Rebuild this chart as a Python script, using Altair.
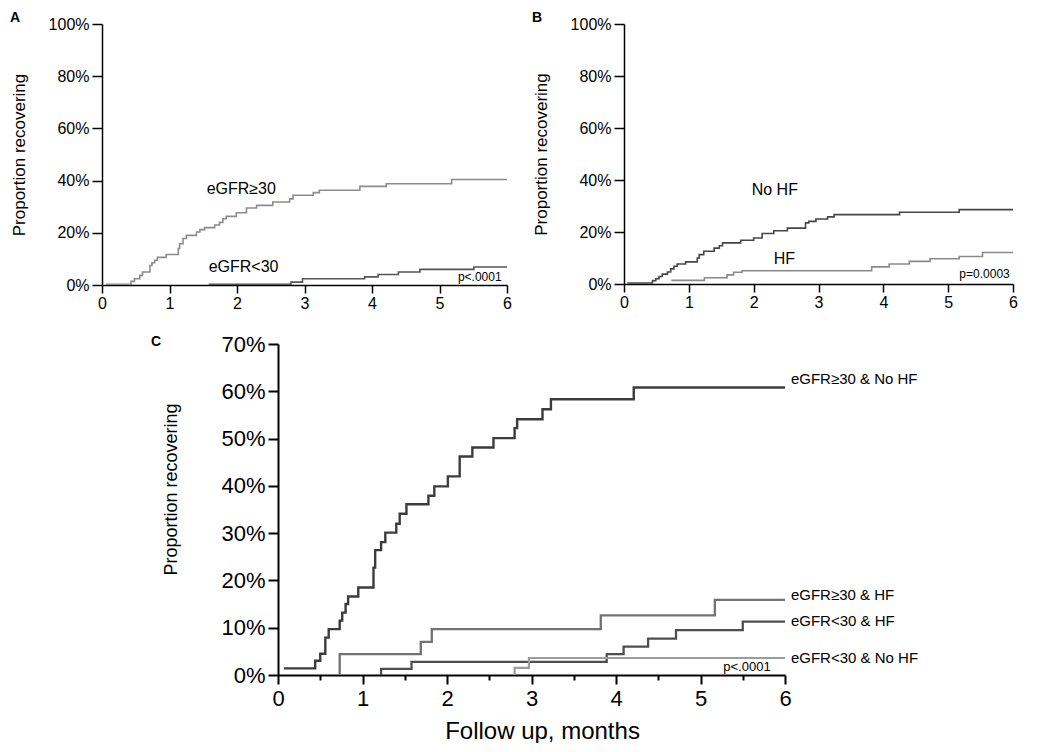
import altair as alt
import pandas as pd

# ---------------- data ----------------
# Panel A
a_hi_t = [0.06, 0.43, 0.48, 0.56, 0.60, 0.71, 0.74, 0.78, 0.82, 0.95, 1.13, 1.15, 1.20, 1.25, 1.40, 1.45, 1.52,
          1.67, 1.74, 1.79, 1.84, 1.99, 2.14, 2.29, 2.53, 2.78, 2.83, 3.13, 3.22, 3.82, 4.21, 5.18, 6.0]
a_hi_v = [0.3, 1.4, 2.4, 3.7, 5.0, 7.5, 8.5, 9.5, 10.6, 11.7, 14.0, 15.8, 17.8, 19.0, 20.3, 21.2, 22.0,
          23.0, 24.0, 25.4, 26.3, 27.7, 29.5, 30.5, 31.8, 33.0, 34.4, 35.4, 36.3, 37.8, 38.8, 40.4, 40.4]
a_lo_t = [1.58, 2.80, 2.97, 3.89, 4.09, 4.39, 4.71, 5.51, 6.0]
a_lo_v = [0.3, 1.1, 2.4, 3.1, 4.0, 5.0, 6.0, 6.9, 6.9]

# Panel B
b_nohf_t = [0.05, 0.44, 0.49, 0.54, 0.59, 0.67, 0.72, 0.77, 0.82, 0.95, 1.13, 1.16, 1.23, 1.39, 1.47, 1.52,
            1.80, 2.00, 2.13, 2.31, 2.52, 2.80, 2.85, 2.96, 3.14, 3.24, 4.25, 5.17, 6.0]
b_nohf_v = [0.4, 1.3, 2.0, 2.9, 3.8, 4.6, 5.8, 6.8, 7.7, 8.5, 10.0, 11.3, 12.6, 13.8, 14.7, 15.8,
            16.8, 17.7, 19.4, 20.5, 21.5, 23.5, 24.1, 25.0, 25.8, 26.7, 27.6, 28.6, 28.6]
b_hf_t = [0.73, 1.24, 1.59, 1.69, 1.82, 3.82, 4.09, 4.40, 4.72, 5.17, 5.53, 6.0]
b_hf_v = [1.4, 2.4, 3.5, 4.5, 5.1, 6.6, 7.7, 8.7, 9.7, 10.6, 12.1, 12.1]

# Panel C
c1_t = [0.07, 0.44, 0.50, 0.56, 0.60, 0.73, 0.76, 0.80, 0.83, 0.95, 1.13, 1.15, 1.22, 1.27, 1.40, 1.44, 1.52,
        1.78, 1.85, 2.01, 2.15, 2.30, 2.55, 2.80, 2.83, 3.13, 3.23, 4.21, 6.0]
c1_v = [1.4, 3.0, 4.5, 7.9, 9.7, 11.5, 13.2, 15.0, 16.6, 18.5, 22.7, 26.4, 28.1, 30.1, 32.0, 34.1, 36.1,
        37.9, 39.9, 42.0, 46.2, 48.1, 50.1, 52.2, 54.1, 56.2, 58.3, 60.8, 60.8]
c2_t = [0.73, 0.73, 1.69, 1.82, 3.82, 5.17, 6.0]
c2_v = [0.0, 4.4, 7.0, 9.7, 12.6, 15.9, 15.9]
c3_t = [1.22, 1.22, 1.58, 3.89, 4.09, 4.38, 4.71, 5.50, 6.0]
c3_v = [0.0, 1.3, 2.8, 4.4, 6.0, 7.7, 9.5, 11.3, 11.3]
c4_t = [2.80, 2.80, 2.97, 6.0]
c4_v = [0.0, 1.5, 3.6, 3.6]

a_names = ["eGFR≥30", "eGFR<30"]
b_names = ["No HF", "HF"]
c_names = ["eGFR≥30 & No HF", "eGFR≥30 & HF", "eGFR<30 & HF", "eGFR<30 & No HF"]

# label anchors (data units)
a_lab_x = [1.55, 1.58]
a_lab_y = [36.8, 6.9]
b_lab_x = [1.97, 2.31]
b_lab_y = [36.2, 9.6]
c_lab_y = [62.5, 17.0, 11.4, 3.6]

x_ticks = [i * 0.5 for i in range(13)]
ab_y_ticks = [i / 10 for i in range(11)]
c_y_ticks = [i / 20 for i in range(15)]


def series_df(pairs, names):
    rows = []
    for (ts, vs), n in zip(pairs, names):
        for i, (t, v) in enumerate(zip(ts, vs)):
            rows.append({"t": t, "v": v / 100.0, "s": n, "o": i})
    return pd.DataFrame(rows)


FONT = "Liberation Sans, Arial, sans-serif"


def x_axis(size, major, minor, width, label_pad, title=None, title_size=None, title_x=None):
    kw = dict(
        values=x_ticks,
        labelExpr="(datum.value % 1 === 0) ? format(datum.value, 'd') : ''",
        labelFontSize=size, labelFont=FONT, labelColor="black", labelPadding=label_pad,
        tickSize={"condition": {"test": "datum.value % 1 === 0", "value": major}, "value": minor},
        tickColor="black", tickWidth=width, domainColor="black", domainWidth=width,
        grid=False, labelFlush=False,
    )
    if title:
        kw.update(title=title, titleFont=FONT, titleFontSize=title_size, titleFontWeight="normal",
                  titleColor="black", titlePadding=10)
        if title_x is not None:
            kw.update(titleX=title_x)
    else:
        kw.update(title=None)
    return alt.Axis(**kw)


def y_axis(values, step, size, major, minor, width, title_size, title_pad, extent, title_y=None):
    kw = dict(
        values=values,
        labelExpr=f"(round(datum.value*100) % {step} === 0) ? format(datum.value, '.0%') : ''",
        labelFontSize=size, labelFont=FONT, labelColor="black", labelPadding=3,
        tickSize={"condition": {"test": f"round(datum.value*100) % {step} === 0", "value": major}, "value": minor},
        tickColor="black", tickWidth=width, domainColor="black", domainWidth=width,
        grid=False, title="Proportion recovering", titleFont=FONT, titleFontSize=title_size,
        titleFontWeight="normal", titleColor="black", titlePadding=title_pad,
        minExtent=extent, maxExtent=extent,
    )
    if title_y is not None:
        kw.update(titleY=title_y)
    return alt.Axis(**kw)


def panel(df, names, colors, widths, ymax, yvals, ystep, w, h, letter, labels_df, pval, pval_xy,
          lab_size, tick_size, xmaj, xmin, ymaj, ymin, axw, ytitle_size, ytitle_pad,
          extent, title_offset, title_dx=0, xtitle=None, xtitle_size=None, pfont=12,
          x_label_pad=2, title_x=None, title_y=None):
    xs = alt.Scale(domain=[0, 6], nice=False, zero=False)
    ys = alt.Scale(domain=[0, ymax], nice=False)
    lines = alt.Chart(df).mark_line(interpolate="step-after", strokeCap="butt").encode(
        x=alt.X("t:Q", scale=xs, axis=x_axis(tick_size, xmaj, xmin, axw, x_label_pad, xtitle, xtitle_size,
                                             title_x)),
        y=alt.Y("v:Q", scale=ys, axis=y_axis(yvals, ystep, tick_size, ymaj, ymin, axw,
                                             ytitle_size, ytitle_pad, extent, title_y)),
        color=alt.Color("s:N", scale=alt.Scale(domain=names, range=colors), legend=None),
        strokeWidth=alt.StrokeWidth("s:N", scale=alt.Scale(domain=names, range=widths), legend=None),
        detail="s:N",
        order="o:Q",
    )
    texts = alt.Chart(labels_df).mark_text(align="left", baseline="middle", font=FONT,
                                           fontSize=lab_size, color="black").encode(
        x=alt.X("x:Q", scale=xs), y=alt.Y("y:Q", scale=ys), text="label:N")
    pdf = pd.DataFrame({"x": [pval_xy[0]], "y": [pval_xy[1]], "label": [pval]})
    ptext = alt.Chart(pdf).mark_text(align="right", baseline="bottom", font=FONT, fontSize=pfont,
                                     color="black").encode(
        x=alt.X("x:Q", scale=xs), y=alt.Y("y:Q", scale=ys), text="label:N")
    return alt.layer(lines, texts, ptext).properties(
        width=w, height=h,
        title=alt.TitleParams(letter, anchor="start", frame="bounds", fontSize=14, fontWeight="bold",
                              font=FONT, color="black", offset=title_offset, dx=title_dx),
    ).resolve_scale(color="independent", strokeWidth="independent")


dfA = series_df([(a_hi_t, a_hi_v), (a_lo_t, a_lo_v)], a_names)
labA = pd.DataFrame({"x": a_lab_x, "y": [v / 100 for v in a_lab_y], "label": a_names})
A = panel(dfA, a_names, ["#8c8c8c", "#555555"], [1.6, 1.6], 1.0, ab_y_ticks, 20, 405, 261, "A", labA,
          "p<.0001", (5.92, 0.003), 16, 16, 8, 4, 10, 5, 1.5, 17, 19, 55, -9)

dfB = series_df([(b_nohf_t, b_nohf_v), (b_hf_t, b_hf_v)], b_names)
labB = pd.DataFrame({"x": b_lab_x, "y": [v / 100 for v in b_lab_y], "label": b_names})
B = panel(dfB, b_names, ["#464646", "#8a8a8a"], [1.6, 1.6], 1.0, ab_y_ticks, 20, 389, 260, "B", labB,
          "p=0.0003", (5.95, 0.012), 16, 16, 8, 4, 10, 5, 1.5, 17, 19, 55, -9)

dfC = series_df([(c1_t, c1_v), (c2_t, c2_v), (c3_t, c3_v), (c4_t, c4_v)], c_names)
labC = pd.DataFrame({"x": [6.07] * 4, "y": [v / 100 for v in c_lab_y], "label": c_names})
C = panel(dfC, c_names, ["#3c3c3c", "#727272", "#4e4e4e", "#9c9c9c"], [2.4, 2.2, 2.2, 1.6], 0.7, c_y_ticks, 10,
          507, 331, "C", labC, "p<.0001", (5.83, 0.003), 15, 22, 9, 5, 10, 6, 2, 18, 40, 58, -16, title_dx=-11,
          xtitle="Follow up, months", xtitle_size=24, pfont=13, x_label_pad=4, title_x=264, title_y=145)

spacer = alt.Chart(pd.DataFrame({"a": [0]})).mark_text(text=" ", opacity=0).encode(
    x=alt.X("a:Q", axis=None), y=alt.Y("a:Q", axis=None)).properties(width=49, height=1)

top = alt.hconcat(A, B, spacing=20).resolve_scale(color="independent", strokeWidth="independent")
bottom = alt.hconcat(spacer, C, spacing=0).resolve_scale(color="independent", strokeWidth="independent")
chart = alt.vconcat(top, bottom, spacing=22).properties(
    padding={"left": 2, "top": 3, "right": 0, "bottom": 0}, background="white"
).resolve_scale(color="independent", strokeWidth="independent").configure_view(
    strokeWidth=0, stroke="transparent")

chart.save("out.html", embed_options={"renderer": "svg", "actions": False})
